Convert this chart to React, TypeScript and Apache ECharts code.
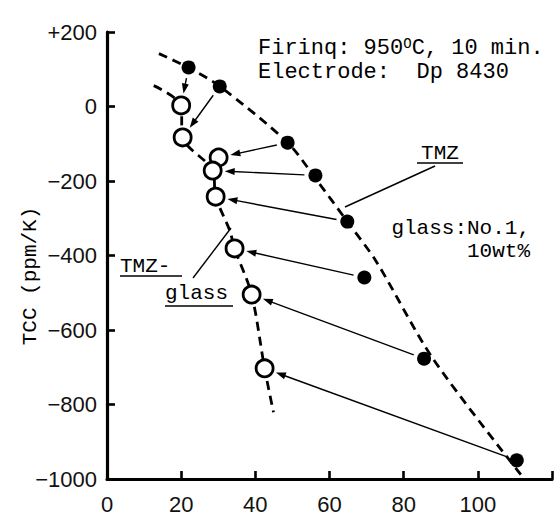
import React, { useEffect, useRef } from "react";
import * as echarts from "echarts";

// x-axis ticks / y-axis ticks
const X_MIN = 0;
const X_MAX = 120;
const X_STEP = 20;
const Y_MIN = -1000;
const Y_MAX = 200;
const Y_STEP = 200;

// TMZ (filled dots)
const tmzX = [22, 30.4, 48.7, 56.2, 64.8, 69.4, 85.5, 110.5];
const tmzY = [105, 54, -97, -185, -309, -459, -677, -950];

// TMZ-glass (open circles)
const glassX = [20, 20.4, 30.1, 28.5, 29.3, 34.4, 39, 42.5];
const glassY = [3, -83, -137, -172, -242, -381, -505, -703];

// dashed trend curves
const tmzCurveX = [14, 21.8, 30.4, 48.7, 56.2, 64.8, 72.6, 87.9, 111.6];
const tmzCurveY = [142, 105, 54, -97, -193, -309, -416, -677, -988];
const glassCurveX = [12.6, 19.9, 20.4, 28.5, 29.3, 33.1, 34.4, 39, 42.5, 44.9];
const glassCurveY = [56, 3, -83, -172, -242, -333, -381, -505, -703, -821];

const zip = (a: number[], b: number[]) => a.map((v, i) => [v, b[i]]);

const MONO = "'Liberation Mono', 'DejaVu Sans Mono', monospace";
const SANS = "'Liberation Sans', Arial, sans-serif";

export default function App() {
  const ref = useRef<HTMLDivElement>(null);
  useEffect(() => {
    if (!ref.current) return;
    const chart = echarts.init(ref.current, undefined, { renderer: "svg" });
    const dash = { color: "#000", width: 2.8, type: [9, 6] as number[] };
    const arrows = tmzX.map((x, i) => [x, tmzY[i], glassX[i], glassY[i]]);
    const txt = (x: number, y: number, text: string, size: number, align = "left", extra: any = {}) => ({
      type: "text",
      x,
      y,
      z: 20,
      style: {
        text,
        font: `${size}px ${MONO}`,
        fill: "#000",
        align,
        verticalAlign: "middle",
        ...extra,
      },
    });
    const ln = (x1: number, y1: number, x2: number, y2: number, w = 1.4) => ({
      type: "line",
      z: 20,
      shape: { x1, y1, x2, y2 },
      style: { stroke: "#000", lineWidth: w },
    });
    chart.setOption({
      animation: false,
      backgroundColor: "#fff",
      grid: { left: 107, top: 32, right: 2, bottom: 43, containLabel: false, outerBoundsMode: "none" },
      xAxis: {
        type: "value",
        min: X_MIN,
        max: X_MAX,
        interval: X_STEP,
        splitLine: { show: false },
        axisLine: { show: true, onZero: false, lineStyle: { color: "#000", width: 3.2 } },
        axisTick: { show: true, inside: true, length: 8, lineStyle: { color: "#000", width: 2.6 } },
        axisLabel: {
          margin: 14,
          fontSize: 22,
          fontFamily: SANS,
          color: "#111",
          formatter: (v: number) => (v === X_MAX ? "" : String(v)),
        },
      },
      yAxis: {
        type: "value",
        min: Y_MIN,
        max: Y_MAX,
        interval: Y_STEP,
        splitLine: { show: false },
        axisLine: { show: true, onZero: false, lineStyle: { color: "#000", width: 3.2 } },
        axisTick: { show: true, inside: true, length: 8, lineStyle: { color: "#000", width: 2.6 } },
        axisLabel: {
          margin: 10,
          fontSize: 22,
          fontFamily: SANS,
          color: "#111",
          padding: [0, 0, 8, 0],
          formatter: (v: number) => (v > 0 ? "+" + v : v < 0 ? "\u2212" + Math.abs(v) : "0"),
        },
      },
      series: [
        {
          type: "line",
          data: zip(tmzCurveX, tmzCurveY),
          symbol: "none",
          smooth: 0.3,
          lineStyle: dash,
          silent: true,
          z: 1,
        },
        {
          type: "line",
          data: zip(glassCurveX, glassCurveY),
          symbol: "none",
          smooth: 0.3,
          lineStyle: dash,
          silent: true,
          z: 1,
        },
        {
          type: "custom",
          data: arrows,
          dimensions: ["x1", "y1", "x2", "y2"],
          encode: { x: [0, 2], y: [1, 3] },
          clip: false,
          z: 2,
          silent: true,
          renderItem: (_p: any, api: any) => {
            const p1 = api.coord([api.value(0), api.value(1)]);
            const p2 = api.coord([api.value(2), api.value(3)]);
            const dx = p2[0] - p1[0];
            const dy = p2[1] - p1[1];
            const len = Math.hypot(dx, dy) || 1;
            const ux = dx / len;
            const uy = dy / len;
            const s = [p1[0] + ux * 11, p1[1] + uy * 11];
            const e = [p2[0] - ux * 12, p2[1] - uy * 12];
            const ah = 10;
            const aw = 3.5;
            const b = [e[0] - ux * ah, e[1] - uy * ah];
            const nx = -uy;
            const ny = ux;
            return {
              type: "group",
              children: [
                {
                  type: "line",
                  shape: { x1: s[0], y1: s[1], x2: b[0] + ux * 2, y2: b[1] + uy * 2 },
                  style: { stroke: "#000", lineWidth: 1.4 },
                },
                {
                  type: "polygon",
                  shape: {
                    points: [
                      e,
                      [b[0] + nx * aw, b[1] + ny * aw],
                      [b[0] - nx * aw, b[1] - ny * aw],
                    ],
                  },
                  style: { fill: "#000" },
                },
              ],
            };
          },
        },
        {
          name: "TMZ",
          type: "scatter",
          data: zip(tmzX, tmzY),
          symbol: "circle",
          symbolSize: 14,
          itemStyle: { color: "#000", opacity: 1 },
          z: 5,
        },
        {
          name: "TMZ-glass",
          type: "scatter",
          data: zip(glassX, glassY),
          symbol: "circle",
          symbolSize: 17,
          itemStyle: { color: "#fff", borderColor: "#000", borderWidth: 2.8, opacity: 1 },
          z: 5,
        },
      ],
      graphic: [
        txt(258, 48, "Firinq: 950{s|O}C, 10 min.", 22, "left", {
          rich: { s: { fontSize: 14, fontFamily: MONO, verticalAlign: "top", padding: [0, 0, 8, 0] } },
        }),
        txt(258, 72, "Electrode:  Dp 8430", 22),
        txt(530, 228, "glass:No.1,", 21, "right"),
        txt(530, 251, "10wt%", 21, "right"),
        txt(440, 153, "TMZ", 21, "center"),
        ln(417, 163, 463, 163, 1.6),
        ln(435, 166, 345, 207),
        txt(120, 266, "TMZ-", 21, "left"),
        ln(120, 276, 182, 276, 1.6),
        txt(165, 293, "glass", 21, "left"),
        ln(165, 306, 233, 306, 1.6),
        ln(193, 278, 231, 228),
        {
          type: "text",
          x: 30,
          y: 276,
          rotation: Math.PI / 2,
          z: 20,
          style: {
            text: "TCC (ppm/K)",
            font: `21px ${MONO}`,
            fill: "#000",
            align: "center",
            verticalAlign: "middle",
          },
        },
      ],
    });
    return () => chart.dispose();
  }, []);
  return (
    <div
      ref={ref}
      style={{ position: "absolute", left: 0, top: 0, width: 554, height: 522, background: "#fff" }}
    />
  );
}
